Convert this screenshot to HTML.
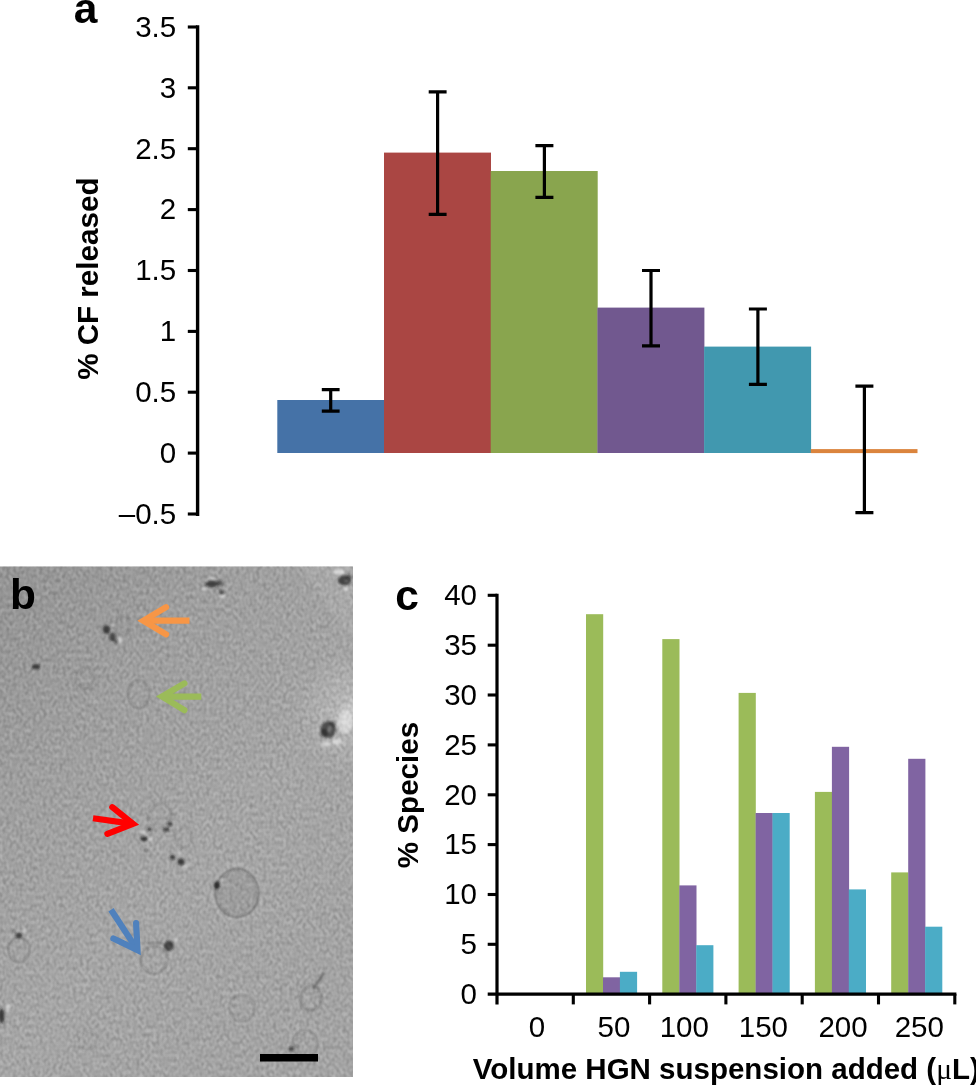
<!DOCTYPE html>
<html lang="en"><head><meta charset="utf-8"><title>Figure</title>
<style>
html,body{margin:0;padding:0;background:#fff;}
svg{display:block;}
text{font-family:"Liberation Sans", Arial, Helvetica, sans-serif;fill:#000;}
.n{font-size:29.5px;}
.b{font-weight:bold;}
</style></head><body>
<svg width="976" height="1086" viewBox="0 0 976 1086">
<rect width="976" height="1086" fill="#fff"/>
<g id="panel-a">
<rect x="277.3" y="400.0" width="107.0" height="53.0" fill="#4572A7"/>
<rect x="384.0" y="152.6" width="107.0" height="300.4" fill="#AA4643"/>
<rect x="490.7" y="171.0" width="107.0" height="282.0" fill="#89A54E"/>
<rect x="597.4" y="307.6" width="107.0" height="145.4" fill="#71588F"/>
<rect x="704.1" y="346.6" width="107.0" height="106.4" fill="#4198AF"/>
<rect x="810.8" y="449.1" width="106.7" height="4" fill="#DB843D"/>
<path d="M321.8 389.7H339.6M321.8 411.1H339.6M330.7 389.7V411.1" stroke="#000" stroke-width="3.2" fill="none"/>
<path d="M428.7 91.8H446.6M428.7 214.3H446.6M437.6 91.8V214.3" stroke="#000" stroke-width="3.2" fill="none"/>
<path d="M535.4 145.6H553.4M535.4 197.3H553.4M544.4 145.6V197.3" stroke="#000" stroke-width="3.2" fill="none"/>
<path d="M642.0 270.5H660.0M642.0 345.8H660.0M651.0 270.5V345.8" stroke="#000" stroke-width="3.2" fill="none"/>
<path d="M748.9 309.0H766.9M748.9 384.3H766.9M757.9 309.0V384.3" stroke="#000" stroke-width="3.2" fill="none"/>
<path d="M855.4 386.2H873.4M855.4 512.6H873.4M864.4 386.2V512.6" stroke="#000" stroke-width="3.2" fill="none"/>
<path d="M197.6 25.2V516" stroke="#000" stroke-width="3.4" fill="none"/>
<path d="M187.8 27.0H197" stroke="#000" stroke-width="3.1"/>
<text class="n" x="176.2" y="36.8" text-anchor="end">3.5</text>
<path d="M187.8 87.8H197" stroke="#000" stroke-width="3.1"/>
<text class="n" x="176.2" y="97.6" text-anchor="end">3</text>
<path d="M187.8 148.7H197" stroke="#000" stroke-width="3.1"/>
<text class="n" x="176.2" y="158.5" text-anchor="end">2.5</text>
<path d="M187.8 209.6H197" stroke="#000" stroke-width="3.1"/>
<text class="n" x="176.2" y="219.4" text-anchor="end">2</text>
<path d="M187.8 270.5H197" stroke="#000" stroke-width="3.1"/>
<text class="n" x="176.2" y="280.3" text-anchor="end">1.5</text>
<path d="M187.8 331.4H197" stroke="#000" stroke-width="3.1"/>
<text class="n" x="176.2" y="341.2" text-anchor="end">1</text>
<path d="M187.8 392.2H197" stroke="#000" stroke-width="3.1"/>
<text class="n" x="176.2" y="402.0" text-anchor="end">0.5</text>
<path d="M187.8 453.1H197" stroke="#000" stroke-width="3.1"/>
<text class="n" x="176.2" y="462.9" text-anchor="end">0</text>
<path d="M187.8 514.0H197" stroke="#000" stroke-width="3.1"/>
<text class="n" x="176.2" y="523.8" text-anchor="end">–0.5</text>
<text class="b" x="73.8" y="23.3" font-size="42.5">a</text>
<text class="b" transform="translate(98 278.7) rotate(-90)" text-anchor="middle" font-size="29.6">% CF released</text>
</g>
<defs>
<linearGradient id="bg1" gradientUnits="userSpaceOnUse" x1="0" y1="567" x2="353" y2="900"><stop offset="0" stop-color="#969696"/><stop offset="0.35" stop-color="#a2a2a2"/><stop offset="0.7" stop-color="#a9a9a9"/><stop offset="1" stop-color="#a7a7a7"/></linearGradient>
<radialGradient id="glow" gradientUnits="userSpaceOnUse" cx="356" cy="712" r="62"><stop offset="0" stop-color="#fff" stop-opacity="0.5"/><stop offset="0.3" stop-color="#fff" stop-opacity="0.2"/><stop offset="1" stop-color="#fff" stop-opacity="0"/></radialGradient>
<filter id="grain" x="0" y="0" width="100%" height="100%" color-interpolation-filters="sRGB"><feTurbulence type="fractalNoise" baseFrequency="0.3 0.24" numOctaves="1" seed="7" result="t"/><feColorMatrix in="t" type="matrix" values="0 0 0 0 0  0 0 0 0 0  0 0 0 0 0  1.6 0 0 0 -0.55" result="a"/><feFlood flood-color="#000"/><feComposite in2="a" operator="in"/></filter>
<filter id="grainw" x="0" y="0" width="100%" height="100%" color-interpolation-filters="sRGB"><feTurbulence type="fractalNoise" baseFrequency="0.3 0.24" numOctaves="1" seed="23" result="t"/><feColorMatrix in="t" type="matrix" values="0 0 0 0 0  0 0 0 0 0  0 0 0 0 0  1.6 0 0 0 -0.55" result="a"/><feFlood flood-color="#fff"/><feComposite in2="a" operator="in"/></filter>
<filter id="soft"><feGaussianBlur stdDeviation="1.1"/></filter>
<clipPath id="clipb"><rect x="0" y="566.3" width="353" height="510.7"/></clipPath>
</defs>
<g id="panel-b" clip-path="url(#clipb)">
<rect x="0" y="566.3" width="353" height="510.7" fill="url(#bg1)"/>
<rect x="0" y="566.3" width="353" height="510.7" fill="url(#glow)"/>
<rect x="0" y="566.3" width="353" height="510.7" filter="url(#grain)" opacity="0.2"/>
<rect x="0" y="566.3" width="353" height="510.7" filter="url(#grainw)" opacity="0.2"/>
<g fill="none" stroke="#fff" stroke-width="2.2" filter="url(#soft)" opacity="0.16">
<ellipse cx="237" cy="893" rx="24" ry="26.5"/>
<ellipse cx="138.5" cy="694" rx="13" ry="16.5"/>
<ellipse cx="154" cy="960" rx="16" ry="16"/>
<ellipse cx="19" cy="950" rx="13" ry="14.5"/>
<ellipse cx="242" cy="1008" rx="15" ry="16"/>
<ellipse cx="305" cy="1044" rx="15" ry="16"/>
</g>
<ellipse cx="237" cy="893" rx="20" ry="22.5" fill="#000" opacity="0.045"/>
<g fill="none" stroke="#4a4a4a" stroke-width="1.7" filter="url(#soft)">
<ellipse cx="138.5" cy="694" rx="11" ry="14.5" opacity="0.38"/>
<ellipse cx="84.8" cy="678" rx="9.5" ry="10.5" opacity="0.22"/>
<ellipse cx="237" cy="893" rx="21.5" ry="24" opacity="0.62"/>
<ellipse cx="154" cy="960" rx="14" ry="14" opacity="0.38"/>
<ellipse cx="19" cy="950" rx="11" ry="12.5" opacity="0.4"/>
<ellipse cx="242" cy="1008" rx="13" ry="14" opacity="0.33"/>
<ellipse cx="311" cy="998" rx="10.5" ry="12.5" opacity="0.38"/>
<ellipse cx="305" cy="1044" rx="13" ry="14" opacity="0.36"/>
<ellipse cx="122.6" cy="626" rx="8" ry="9.5" opacity="0.28"/>
<ellipse cx="160" cy="815" rx="11" ry="12" opacity="0.22"/>
<ellipse cx="88" cy="1040" rx="9" ry="10" opacity="0.15"/>
<ellipse cx="184" cy="838" rx="9" ry="10" opacity="0.15"/>
<path d="M147 943.1H162" opacity="0.55"/><path d="M324 973L313 989" stroke-width="2.6" opacity="0.6"/>
</g>
<g fill="#fff" filter="url(#soft)">
<ellipse cx="345" cy="722" rx="7" ry="12" opacity="0.42"/>
<ellipse cx="337" cy="742" rx="5" ry="3" opacity="0.5"/>
<ellipse cx="326" cy="744" rx="5" ry="2.5" opacity="0.45"/>
<ellipse cx="339" cy="572" rx="6" ry="2.5" opacity="0.6"/>
<ellipse cx="346" cy="589" rx="2.5" ry="2" opacity="0.6"/>
<ellipse cx="212" cy="578" rx="3" ry="1.5" opacity="0.5"/>
<ellipse cx="222" cy="596" rx="3" ry="2" opacity="0.5"/>
<ellipse cx="204" cy="589" rx="2.5" ry="1.5" opacity="0.45"/>
<ellipse cx="120" cy="640" rx="2" ry="3.5" opacity="0.5"/>
<ellipse cx="113" cy="625" rx="2" ry="2" opacity="0.35"/>
<ellipse cx="143" cy="832" rx="3" ry="2" opacity="0.4"/>
<ellipse cx="151" cy="839" rx="2" ry="2" opacity="0.5"/>
<ellipse cx="179" cy="853" rx="2" ry="2" opacity="0.4"/>
<ellipse cx="186" cy="866" rx="3" ry="1.5" opacity="0.4"/>
<ellipse cx="170" cy="947.2" rx="1.6" ry="1.6" opacity="0.7"/>
<ellipse cx="176" cy="940" rx="2" ry="2.5" opacity="0.4"/>
<ellipse cx="222" cy="880" rx="2" ry="2" opacity="0.35"/>
<ellipse cx="24" cy="931" rx="2" ry="2" opacity="0.4"/>
<ellipse cx="8" cy="1008" rx="2" ry="4" opacity="0.4"/>
<ellipse cx="166" cy="943" rx="4" ry="1.3" opacity="0.3"/>
</g>
<g fill="#1c1c1c" filter="url(#soft)">
<ellipse cx="106.5" cy="629.5" rx="3.6" ry="4.2" opacity="0.72"/>
<ellipse cx="112.5" cy="637" rx="3.2" ry="4.2" opacity="0.66"/>
<ellipse cx="116" cy="641.5" rx="2" ry="2.4" opacity="0.45"/>
<ellipse cx="36" cy="666.7" rx="4.2" ry="2.6" opacity="0.72"/>
<ellipse cx="212" cy="584" rx="6.5" ry="3.2" opacity="0.72"/>
<ellipse cx="220" cy="583" rx="3" ry="3" opacity="0.5"/>
<ellipse cx="221.5" cy="592.3" rx="2.8" ry="2" opacity="0.6"/>
<ellipse cx="344.5" cy="580.5" rx="6.5" ry="5" opacity="0.78"/>
<ellipse cx="349" cy="577" rx="3" ry="3" opacity="0.5"/>
<ellipse cx="328.2" cy="729.5" rx="7.6" ry="8.6" opacity="0.66"/>
<ellipse cx="324" cy="733" rx="4" ry="4" opacity="0.45"/>
<ellipse cx="332" cy="724" rx="3" ry="3" opacity="0.4"/>
<ellipse cx="143.8" cy="838.7" rx="3.4" ry="2.3" opacity="0.8"/>
<ellipse cx="149.5" cy="829.3" rx="2.6" ry="1.8" opacity="0.7"/>
<ellipse cx="166" cy="829.5" rx="3.2" ry="2" opacity="0.7"/>
<ellipse cx="170" cy="823.8" rx="2.4" ry="2.2" opacity="0.7"/>
<ellipse cx="146" cy="850" rx="1.6" ry="1.6" opacity="0.4"/>
<ellipse cx="172.5" cy="857.2" rx="2.6" ry="2.4" opacity="0.75"/>
<ellipse cx="181" cy="861.8" rx="3.2" ry="3.2" opacity="0.78"/>
<ellipse cx="216.7" cy="885.3" rx="3" ry="3.8" opacity="0.85"/>
<ellipse cx="168.8" cy="945.8" rx="5" ry="5.2" opacity="0.72"/>
<ellipse cx="18.8" cy="935.5" rx="3.4" ry="2.8" opacity="0.72"/>
<ellipse cx="14" cy="931" rx="1.5" ry="1.5" opacity="0.4"/>
<ellipse cx="1.5" cy="1016" rx="3" ry="7.5" opacity="0.75"/>
<ellipse cx="291" cy="1049" rx="2.6" ry="2.6" opacity="0.62"/>
<ellipse cx="297" cy="1046" rx="1.6" ry="1.6" opacity="0.35"/>
</g>
<g fill="#9a9a9a" filter="url(#soft)"><ellipse cx="329.5" cy="729" rx="1.7" ry="4" opacity="0.55" transform="rotate(15 329.5 729)"/><ellipse cx="346.5" cy="581" rx="2.2" ry="1.3" opacity="0.4"/></g>
<path d="M353 566L300 566L353 640Z" fill="#fff" opacity="0.07" filter="url(#soft)"/>
<g stroke="#F79646" stroke-width="6.2" fill="none"><path d="M189.5 620.7L143.4 620.7" stroke-linecap="butt"/><path d="M166.1 607.2L143.4 620.7L166.1 634.3" stroke-linecap="round" stroke-linejoin="miter" stroke-miterlimit="10"/></g>
<g stroke="#9BBB59" stroke-width="6.2" fill="none"><path d="M201.3 696.6L162 696.6" stroke-linecap="butt"/><path d="M184.4 683.4L162 696.6L184.4 710.2" stroke-linecap="round" stroke-linejoin="miter" stroke-miterlimit="10"/></g>
<g stroke="#FF0000" stroke-width="6.2" fill="none"><path d="M93 818.2L133 823.9" stroke-linecap="butt"/><path d="M112.3 807.2L133 823.9L107.4 833.9" stroke-linecap="round" stroke-linejoin="miter" stroke-miterlimit="10"/></g>
<g stroke="#4F81BD" stroke-width="6.2" fill="none"><path d="M111 909.8L137.5 950.1" stroke-linecap="butt"/><path d="M136.1 923L137.5 950.1L113.4 938.5" stroke-linecap="round" stroke-linejoin="miter" stroke-miterlimit="10"/></g>
<rect x="260" y="1054" width="58" height="7.5" fill="#000"/>
<text class="b" x="9.9" y="608.7" font-size="42.5">b</text>
</g>
<g id="panel-c">
<rect x="586.0" y="614.2" width="17.2" height="379.9" fill="#9BBB59"/>
<rect x="603.0" y="977.3" width="17.2" height="16.8" fill="#8064A2"/>
<rect x="619.9" y="971.8" width="17.2" height="22.3" fill="#4BACC6"/>
<rect x="662.3" y="639.1" width="17.2" height="355.0" fill="#9BBB59"/>
<rect x="679.3" y="885.4" width="17.2" height="108.7" fill="#8064A2"/>
<rect x="696.2" y="945.2" width="17.2" height="48.9" fill="#4BACC6"/>
<rect x="738.6" y="692.9" width="17.2" height="301.2" fill="#9BBB59"/>
<rect x="755.6" y="813.0" width="17.2" height="181.1" fill="#8064A2"/>
<rect x="772.5" y="813.0" width="17.2" height="181.1" fill="#4BACC6"/>
<rect x="814.9" y="791.9" width="17.2" height="202.2" fill="#9BBB59"/>
<rect x="831.9" y="746.8" width="17.2" height="247.3" fill="#8064A2"/>
<rect x="848.8" y="889.4" width="17.2" height="104.7" fill="#4BACC6"/>
<rect x="891.2" y="872.4" width="17.2" height="121.7" fill="#9BBB59"/>
<rect x="908.2" y="758.8" width="17.2" height="235.3" fill="#8064A2"/>
<rect x="925.1" y="926.7" width="17.2" height="67.4" fill="#4BACC6"/>
<path d="M497 593.8V1004.4M487.7 994.1H956.4" stroke="#000" stroke-width="3.2" fill="none"/>
<path d="M573.3 994V1004.4" stroke="#000" stroke-width="3.1"/>
<path d="M649.6 994V1004.4" stroke="#000" stroke-width="3.1"/>
<path d="M725.9 994V1004.4" stroke="#000" stroke-width="3.1"/>
<path d="M802.2 994V1004.4" stroke="#000" stroke-width="3.1"/>
<path d="M878.5 994V1004.4" stroke="#000" stroke-width="3.1"/>
<path d="M954.8 994V1004.4" stroke="#000" stroke-width="3.1"/>
<path d="M487.7 595.3H497" stroke="#000" stroke-width="3.1"/>
<text class="n" x="477" y="605.1" text-anchor="end">40</text>
<path d="M487.7 645.2H497" stroke="#000" stroke-width="3.1"/>
<text class="n" x="477" y="655.0" text-anchor="end">35</text>
<path d="M487.7 695.0H497" stroke="#000" stroke-width="3.1"/>
<text class="n" x="477" y="704.8" text-anchor="end">30</text>
<path d="M487.7 744.9H497" stroke="#000" stroke-width="3.1"/>
<text class="n" x="477" y="754.7" text-anchor="end">25</text>
<path d="M487.7 794.8H497" stroke="#000" stroke-width="3.1"/>
<text class="n" x="477" y="804.6" text-anchor="end">20</text>
<path d="M487.7 844.6H497" stroke="#000" stroke-width="3.1"/>
<text class="n" x="477" y="854.4" text-anchor="end">15</text>
<path d="M487.7 894.5H497" stroke="#000" stroke-width="3.1"/>
<text class="n" x="477" y="904.3" text-anchor="end">10</text>
<path d="M487.7 944.3H497" stroke="#000" stroke-width="3.1"/>
<text class="n" x="477" y="954.1" text-anchor="end">5</text>
<text class="n" x="477" y="1003.9" text-anchor="end">0</text>
<text class="n" x="537.0" y="1037.3" text-anchor="middle">0</text>
<text class="n" x="613.9" y="1037.3" text-anchor="middle">50</text>
<text class="n" x="684.3" y="1037.3" text-anchor="middle">100</text>
<text class="n" x="763.4" y="1037.3" text-anchor="middle">150</text>
<text class="n" x="843.0" y="1037.3" text-anchor="middle">200</text>
<text class="n" x="919.3" y="1037.3" text-anchor="middle">250</text>
<text class="b" x="395.3" y="609.7" font-size="42.5">c</text>
<text class="b" transform="translate(418.3 795) rotate(-90)" text-anchor="middle" font-size="29.6">% Species</text>
<text class="b" x="472.8" y="1078.6" font-size="29.5">Volume HGN suspension added (<tspan font-family="Liberation Serif, serif" font-weight="normal">μ</tspan>L)</text>
</g>
</svg>
</body></html>
